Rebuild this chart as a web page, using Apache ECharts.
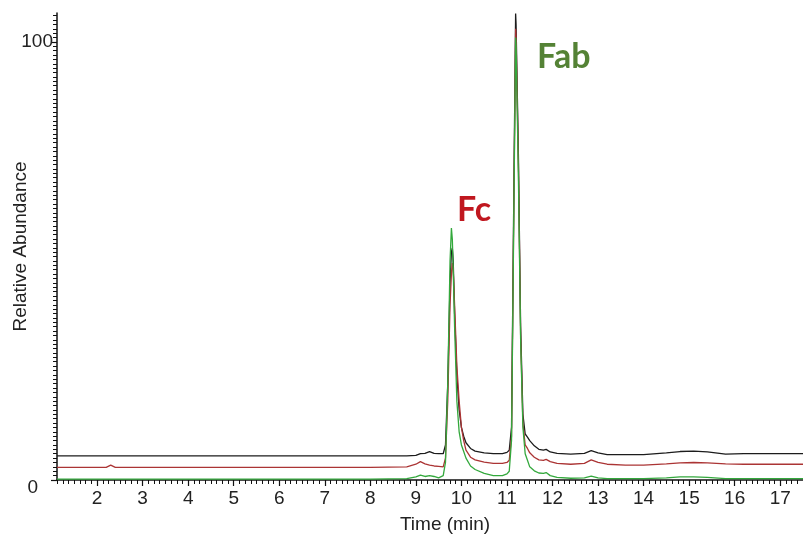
<!DOCTYPE html>
<html><head><meta charset="utf-8">
<script src="https://cdn.jsdelivr.net/npm/echarts@6/dist/echarts.min.js"></script>
<style>html,body{margin:0;padding:0;background:#fff}#c{width:803px;height:537px}</style>
</head><body><div id="c"></div>
<script>
// Retention times (min)
const times = [
  1.12, 2.2, 2.3, 2.4, 3, 4, 5, 6, 7, 8,
  8.8, 9.0, 9.1, 9.2, 9.3, 9.4, 9.5, 9.6, 9.65, 9.7,
  9.75, 9.78, 9.8, 9.82, 9.85, 9.9, 9.95, 10.0, 10.05, 10.1,
  10.2, 10.3, 10.5, 10.7, 10.9, 11.0, 11.05, 11.1, 11.15, 11.19,
  11.2, 11.25, 11.3, 11.35, 11.4, 11.45, 11.5, 11.6, 11.7, 11.8,
  11.86, 11.95, 12.1, 12.4, 12.7, 12.85, 13.0, 13.2, 13.6, 14.0,
  14.5, 14.8, 15.1, 15.4, 15.8, 16.2, 16.6, 17.0, 17.5
];
const blackVals = [
  5.5, 5.5, 5.5, 5.5, 5.5, 5.5, 5.5, 5.5, 5.5, 5.5,
  5.5, 5.6, 6.0, 6.1, 6.5, 6.1, 6.0, 6.0, 8, 22,
  45, 52, 53, 50, 38, 24, 16, 12, 10, 8.5,
  7.2, 6.6, 6.2, 6.0, 6.0, 6.3, 6.8, 12, 65, 106.5,
  104, 75, 35, 15, 10.5, 9.8, 9.0, 7.8, 7.0, 6.8,
  7.0, 6.4, 6.1, 5.9, 6.1, 6.7, 6.2, 5.8, 5.8, 5.8,
  6.2, 6.5, 6.6, 6.4, 5.9, 6.0, 6.0, 6.0, 6.0
];
const redVals = [
  2.9, 2.9, 3.4, 2.9, 2.9, 2.9, 2.9, 2.9, 2.9, 2.9,
  3.0, 3.6, 4.2, 3.7, 3.4, 3.2, 3.1, 3.0, 5, 18,
  40, 47, 49.5, 48, 40, 26, 18, 12, 9, 6.8,
  5.2, 4.6, 4.1, 3.8, 3.8, 4.0, 4.5, 10, 62, 103,
  101, 73, 33, 13, 8, 7.2, 6.2, 5.2, 4.6, 4.5,
  4.7, 4.2, 3.8, 3.6, 3.8, 4.6, 4.0, 3.6, 3.4, 3.4,
  3.7, 3.9, 4.0, 3.9, 3.7, 3.6, 3.6, 3.6, 3.6
];
const greenVals = [
  0.2, 0.2, 0.2, 0.2, 0.2, 0.2, 0.2, 0.2, 0.2, 0.2,
  0.3, 0.7, 1.1, 0.8, 1.0, 0.8, 0.5, 1.0, 4, 22,
  50, 57.5, 55, 48, 35, 18, 11, 8, 6.5, 5,
  3.2, 2.4, 1.5, 1.0, 1.0, 1.4, 2.0, 9, 60, 101,
  99, 70, 32, 12, 6, 4.5, 3.0, 2.1, 1.6, 1.5,
  1.7, 1.0, 0.6, 0.4, 0.5, 0.9, 0.5, 0.3, 0.3, 0.3,
  0.5, 0.7, 0.7, 0.6, 0.3, 0.3, 0.3, 0.3, 0.3
];
const xTickLabels = [2, 3, 4, 5, 6, 7, 8, 9, 10, 11, 12, 13, 14, 15, 16, 17];
const yTickLabels = [0, 100];
const peakNames = ['Fc', 'Fab'];

const xMinor = [];
for (let i = 9; i <= 140; i++) xMinor.push(i * 0.125);
const yMinor = [];
for (let i = 1; i <= 106; i++) yMinor.push(i);

const FONT = '"Liberation Sans", Arial, sans-serif';
const chart = echarts.init(document.getElementById('c'), null, {renderer: 'canvas'});
const mk = (vals) => times.map((t, i) => [t, vals[i]]);

chart.setOption({
  animation: false,
  backgroundColor: '#fff',
  grid: {left: 57, right: 0, top: 13, bottom: 57, containLabel: false, outerBoundsMode: 'none'},
  xAxis: [{
    type: 'value', min: 1.12, max: 17.5,
    name: 'Time (min)', nameLocation: 'middle', nameGap: 35, nameMoveOverlap: false,
    nameTextStyle: {fontFamily: FONT, fontSize: 19, color: '#222', padding: [0, 0, 0, 30]},
    axisLine: {show: true, lineStyle: {color: '#111', width: 1.5}},
    axisTick: {show: true, customValues: xMinor, length: 4, lineStyle: {color: '#111', width: 1}},
    axisLabel: {show: true, customValues: xTickLabels, margin: 9, fontFamily: FONT, fontSize: 19, color: '#222'},
    splitLine: {show: false}
  }, {
    type: 'value', min: 1.12, max: 17.5, position: 'bottom',
    axisLine: {show: false},
    axisTick: {show: true, customValues: xTickLabels, length: 6, lineStyle: {color: '#111', width: 1.2}},
    axisLabel: {show: false},
    splitLine: {show: false}
  }],
  yAxis: [{
    type: 'value', min: 0, max: 106.6, position: 'left',
    name: 'Relative Abundance', nameLocation: 'middle', nameGap: 27, nameMoveOverlap: false,
    nameTextStyle: {fontFamily: FONT, fontSize: 19, color: '#222'},
    axisLine: {show: true, lineStyle: {color: '#111', width: 1.5}},
    axisTick: {show: true, customValues: yTickLabels, length: 6, lineStyle: {color: '#111', width: 1.2}},
    axisLabel: {
      show: true, customValues: yTickLabels, margin: 4,
      formatter: v => v === 0 ? '{z|0}' : '{h|' + v + '}',
      rich: {
        z: {fontFamily: FONT, fontSize: 19, color: '#222', padding: [15, 15, 0, 0]},
        h: {fontFamily: FONT, fontSize: 19, color: '#222'}
      }
    },
    splitLine: {show: false}
  }, {
    type: 'value', min: 0, max: 106.6, position: 'left', offset: 0,
    axisLine: {show: false},
    axisTick: {show: true, customValues: yMinor, length: 4, lineStyle: {color: '#111', width: 1}},
    axisLabel: {show: false},
    splitLine: {show: false}
  }],
  series: [
    {name: 'black', type: 'line', data: mk(blackVals), showSymbol: false, symbol: 'none',
     lineStyle: {color: '#1c1c1c', width: 1.3}, z: 3},
    {name: 'red', type: 'line', data: mk(redVals), showSymbol: false, symbol: 'none',
     lineStyle: {color: '#ab3434', width: 1.3}, z: 4},
    {name: 'green', type: 'line', data: mk(greenVals), showSymbol: false, symbol: 'none',
     lineStyle: {color: '#33a83c', width: 1.3}, z: 5}
  ],
  graphic: [
    {type: 'text', left: 457, top: 193, z: 10,
     style: {text: peakNames[0], font: 'bold 34px Lato, "Open Sans", sans-serif', fill: '#c0171f'}},
    {type: 'text', left: 537, top: 40, z: 10,
     style: {text: peakNames[1], font: 'bold 34px Lato, "Open Sans", sans-serif', fill: '#548235'}}
  ]
});
</script>
</body></html>
